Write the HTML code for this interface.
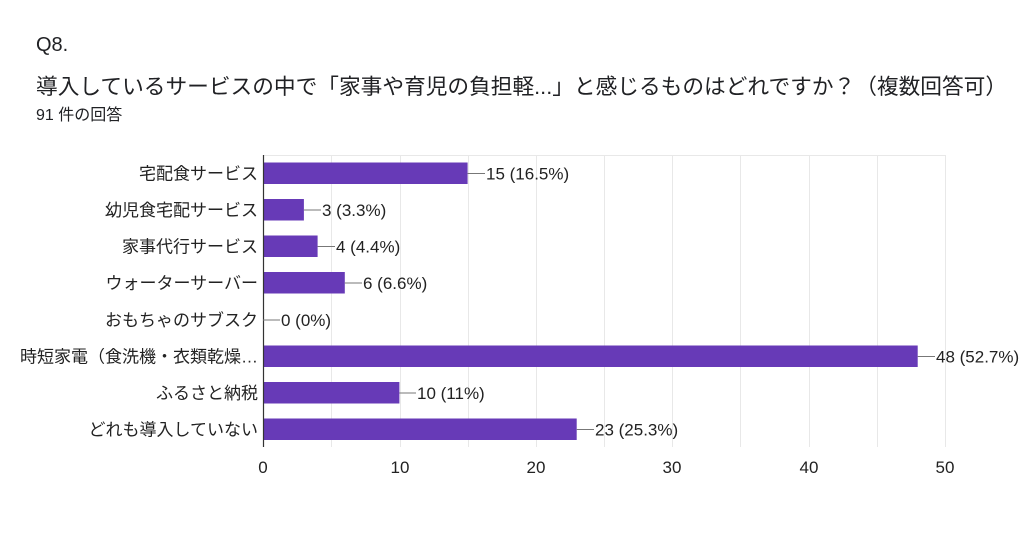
<!DOCTYPE html>
<html><head><meta charset="utf-8"><style>
body{margin:0;background:#fff;width:1024px;height:536px;overflow:hidden;font-family:"Liberation Sans","Noto Sans CJK JP",sans-serif;color:#202124}
.t{position:absolute;left:36px;white-space:nowrap}
</style></head><body>
<div class="t" style="top:34px;font-size:20px">Q8.</div>
<div class="t" style="top:70px;font-size:21.7px">導入しているサービスの中で「家事や育児の負担軽...」と感じるものはどれですか？（複数回答可）</div>
<div class="t" style="top:101px;font-size:16px">91 件の回答</div>
<svg width="1024" height="536" style="position:absolute;left:0;top:0" font-family="Liberation Sans, Noto Sans CJK JP, sans-serif" font-size="17" fill="#222">
<g stroke="#e8e8e8" stroke-width="1">
<line x1="263" y1="155.5" x2="945" y2="155.5"/>
<line x1="331.5" y1="155" x2="331.5" y2="447"/><line x1="400.5" y1="155" x2="400.5" y2="447"/><line x1="468.5" y1="155" x2="468.5" y2="447"/><line x1="536.5" y1="155" x2="536.5" y2="447"/><line x1="604.5" y1="155" x2="604.5" y2="447"/><line x1="672.5" y1="155" x2="672.5" y2="447"/><line x1="740.5" y1="155" x2="740.5" y2="447"/><line x1="809.5" y1="155" x2="809.5" y2="447"/><line x1="877.5" y1="155" x2="877.5" y2="447"/><line x1="945.5" y1="155" x2="945.5" y2="447"/>
</g>
<g fill="#673ab7">
<rect x="263" y="162.5" width="204.6" height="21.5"/>
<rect x="263" y="199" width="40.9" height="21.5"/>
<rect x="263" y="235.5" width="54.6" height="21.5"/>
<rect x="263" y="272" width="81.8" height="21.5"/>
<rect x="263" y="345.5" width="654.7" height="21.5"/>
<rect x="263" y="382" width="136.4" height="21.5"/>
<rect x="263" y="418.5" width="313.7" height="21.5"/>
</g>
<line x1="263.5" y1="155" x2="263.5" y2="447" stroke="#333" stroke-width="1.2"/>
<g stroke="#777" stroke-width="1">
<line x1="467.6" y1="173.5" x2="485" y2="173.5"/>
<line x1="303.9" y1="210" x2="321" y2="210"/>
<line x1="317.6" y1="246.5" x2="335" y2="246.5"/>
<line x1="344.8" y1="283" x2="362" y2="283"/>
<line x1="263" y1="320" x2="280" y2="320"/>
<line x1="917.7" y1="356.5" x2="935" y2="356.5"/>
<line x1="399.4" y1="393" x2="416" y2="393"/>
<line x1="576.7" y1="429.5" x2="594" y2="429.5"/>
</g>
<g>
<text x="486" y="179.5">15 (16.5%)</text>
<text x="322" y="216">3 (3.3%)</text>
<text x="336" y="252.5">4 (4.4%)</text>
<text x="363" y="289">6 (6.6%)</text>
<text x="281" y="326">0 (0%)</text>
<text x="936" y="362.5">48 (52.7%)</text>
<text x="417" y="399">10 (11%)</text>
<text x="595" y="435.5">23 (25.3%)</text>
</g>
<g text-anchor="end">
<text x="258" y="179.5">宅配食サービス</text>
<text x="258" y="216">幼児食宅配サービス</text>
<text x="258" y="252.5">家事代行サービス</text>
<text x="258" y="289">ウォーターサーバー</text>
<text x="258" y="326">おもちゃのサブスク</text>
<text x="258" y="362.5">時短家電（食洗機・衣類乾燥…</text>
<text x="258" y="399">ふるさと納税</text>
<text x="258" y="435.5">どれも導入していない</text>
</g>
<g text-anchor="middle">
<text x="263" y="473">0</text><text x="400" y="473">10</text><text x="536" y="473">20</text><text x="672" y="473">30</text><text x="809" y="473">40</text><text x="945" y="473">50</text>
</g>
</svg>
</body></html>
